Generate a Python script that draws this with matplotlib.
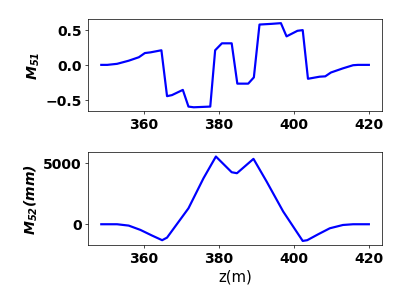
import matplotlib
matplotlib.use("Agg")
import matplotlib.pyplot as plt

# M51 along z
z1 = [348.7, 350.3, 352.9, 356.0, 358.7, 360.3, 361.8, 364.7, 366.2, 367.5,
      370.4, 371.9, 373.3, 377.7, 379.0, 380.8, 383.4, 384.9, 387.8, 389.3,
      390.8, 394.0, 396.5, 398.0, 400.9, 402.3, 403.7, 406.8, 408.3, 409.8,
      413.0, 415.7, 417.0, 419.9]
m51 = [0.0, 0.0, 0.015, 0.06, 0.11, 0.17, 0.18, 0.21, -0.45, -0.435,
       -0.36, -0.60, -0.61, -0.60, 0.21, 0.31, 0.31, -0.27, -0.27, -0.18,
       0.58, 0.59, 0.60, 0.41, 0.49, 0.50, -0.20, -0.17, -0.165, -0.11,
       -0.05, -0.005, 0.0, 0.0]

# M52 along z
z2 = [348.7, 352.9, 356.0, 359.1, 362.2, 364.9, 366.2, 371.9, 375.9, 379.2,
      383.4, 384.8, 389.2, 392.7, 397.1, 402.3, 403.5, 406.4, 409.5, 413.0,
      415.7, 419.9]
m52 = [0, 0, -110, -460, -920, -1300, -1090, 1300, 3750, 5520,
       4240, 4160, 5330, 3480, 1040, -1360, -1300, -820, -330, -60,
       0, 0]

fig = plt.figure(figsize=(6.4, 4.8), dpi=63)
ax1 = fig.add_axes([0.218, 0.630, 0.730, 0.306])
ax2 = fig.add_axes([0.218, 0.188, 0.730, 0.307])

ax1.plot(z1, m51, color="blue", lw=2.5)
ax2.plot(z2, m52, color="blue", lw=2.5)

for ax in (ax1, ax2):
    ax.set_xticks([360, 380, 400, 420])
    ax.tick_params(labelsize=16)
    for lab in ax.get_xticklabels() + ax.get_yticklabels():
        lab.set_fontweight("bold")

ax1.set_yticks([-0.5, 0.0, 0.5])
ax2.set_yticks([0, 5000])
ax1.set_ylabel(r"$\mathbfit{M_{51}}$", fontsize=16)
ax2.set_ylabel(r"$\mathbfit{M_{52}(mm)}$", fontsize=16)
ax2.set_xlabel("z(m)", fontsize=17)

fig.savefig("out.png")
